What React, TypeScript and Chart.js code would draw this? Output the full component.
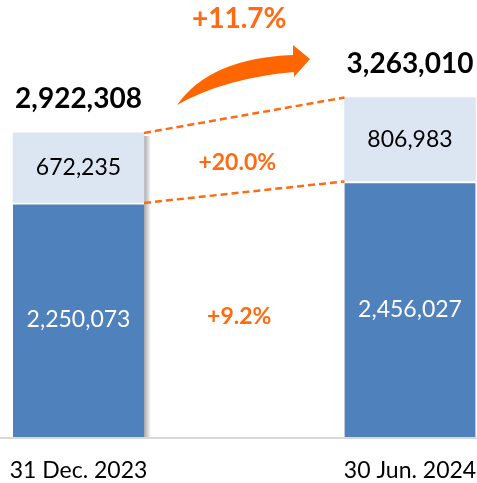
import React, { useEffect, useRef } from "react";
import { Chart, registerables } from "chart.js";

Chart.register(...registerables);

const categories = ["31 Dec. 2023", "30 Jun. 2024"];
const baseValues = [2250073, 2456027];
const topValues = [672235, 806983];
const totals = [2922308, 3263010];
const growthTotal = "+11.7%";
const growthTop = "+20.0%";
const growthBase = "+9.2%";

const DARK = "#4F81BD";
const LIGHT = "#DCE6F2";
const ORANGE = "#FF6A13";
const FONT = "Lato, 'Open Sans', sans-serif";

const fmt = (v: number) => v.toLocaleString("en-US");

const overlay = {
  id: "overlay",
  beforeDatasetsDraw(chart: any) {
    const ctx = chart.ctx;
    const y0 = chart.scales.y.getPixelForValue(0);
    ctx.save();
    // baseline
    ctx.strokeStyle = "#D9D9D9";
    ctx.lineWidth = 2;
    ctx.beginPath();
    ctx.moveTo(0, y0 + 1);
    ctx.lineTo(chart.width, y0 + 1);
    ctx.stroke();
    // shadow on first bar
    const b = chart.getDatasetMeta(1).data[0];
    const right = b.x + b.width / 2;
    const g = ctx.createLinearGradient(right, 0, right + 7, 0);
    g.addColorStop(0, "rgba(0,0,0,0.35)");
    g.addColorStop(1, "rgba(0,0,0,0)");
    ctx.fillStyle = g;
    ctx.fillRect(right, b.y + 3, 7, y0 - b.y - 3);
    ctx.restore();
  },
  afterDatasetsDraw(chart: any) {
    const ctx = chart.ctx;
    const base = chart.getDatasetMeta(0).data;
    const top = chart.getDatasetMeta(1).data;
    const y0 = chart.scales.y.getPixelForValue(0);
    ctx.save();
    ctx.textAlign = "center";
    ctx.textBaseline = "middle";
    // segment values
    ctx.font = `23px ${FONT}`;
    base.forEach((el: any, i: number) => {
      ctx.fillStyle = "#FFFFFF";
      ctx.fillText(fmt(baseValues[i]), el.x, (el.y + el.base) / 2);
    });
    top.forEach((el: any, i: number) => {
      ctx.fillStyle = "#000000";
      ctx.fillText(fmt(topValues[i]), el.x, (el.y + el.base) / 2);
    });
    // totals
    ctx.font = `bold 28px ${FONT}`;
    top.forEach((el: any, i: number) => {
      ctx.fillStyle = "#000000";
      ctx.fillText(fmt(totals[i]), el.x, el.y - 33.5);
    });
    // dashed connectors
    const r0 = top[0].x + top[0].width / 2;
    const l1 = top[1].x - top[1].width / 2;
    ctx.strokeStyle = ORANGE;
    ctx.lineWidth = 2.5;
    ctx.setLineDash([7, 4]);
    ctx.beginPath();
    ctx.moveTo(r0, top[0].y);
    ctx.lineTo(l1, top[1].y);
    ctx.moveTo(r0, base[0].y);
    ctx.lineTo(l1, base[1].y);
    ctx.stroke();
    ctx.setLineDash([]);
    // growth labels
    const midX = (r0 + l1) / 2;
    const topMid = (top[0].y + top[1].y) / 2;
    const baseMid = (base[0].y + base[1].y) / 2;
    ctx.fillStyle = ORANGE;
    ctx.font = `bold 23px ${FONT}`;
    ctx.fillText(growthTop, midX - 7, (topMid + baseMid) / 2 + 9);
    ctx.fillText(growthBase, midX - 5, (baseMid + y0) / 2 + 2);
    ctx.font = `bold 28px ${FONT}`;
    ctx.fillText(growthTotal, midX - 5, 19);
    // curved arrow
    ctx.fillStyle = "#FF6600";
    ctx.beginPath();
    ctx.moveTo(177, 105);
    ctx.quadraticCurveTo(210, 58, 293, 55);
    ctx.lineTo(293, 45);
    ctx.lineTo(310, 59);
    ctx.lineTo(294, 77);
    ctx.lineTo(294, 72);
    ctx.quadraticCurveTo(225, 78, 177, 105);
    ctx.closePath();
    ctx.fill();
    ctx.restore();
  },
};

export default function App() {
  const ref = useRef<HTMLCanvasElement>(null);
  useEffect(() => {
    if (!ref.current) return;
    const chart = new Chart(ref.current, {
      type: "bar",
      data: {
        labels: categories,
        datasets: [
          {
            label: "Base",
            data: baseValues,
            backgroundColor: DARK,
            borderColor: "#FFFFFF",
            borderWidth: { top: 2, left: 0, right: 0, bottom: 0 },
            borderSkipped: false,
            barThickness: 131,
            clip: false,
          },
          {
            label: "Top",
            data: topValues,
            backgroundColor: LIGHT,
            borderWidth: 0,
            barThickness: 131,
            clip: false,
          },
        ] as any,
      },
      options: {
        responsive: false,
        animation: false,
        events: [],
        layout: { padding: { left: 78.5, right: 67, top: 0, bottom: 0.5 } },
        plugins: {
          legend: { display: false },
          tooltip: { enabled: false },
        },
        scales: {
          x: {
            stacked: true,
            offset: false,
            grid: { display: false, drawTicks: false, tickLength: 0 },
            border: { display: false },
            ticks: {
              color: "#000000",
              padding: 22.5,
              maxRotation: 0,
              minRotation: 0,
              autoSkip: false,
              font: { family: FONT, size: 23, lineHeight: 1 },
            },
            afterFit: (s: any) => {
              s.paddingLeft = 0;
              s.paddingRight = 0;
              s.paddingTop = 0;
              s.paddingBottom = 0;
              s.height = 45.5;
            },
          },
          y: {
            stacked: true,
            display: false,
            min: 0,
            max: 4200000,
          },
        },
      } as any,
      plugins: [overlay],
    });
    return () => chart.destroy();
  }, []);
  return (
    <div style={{ position: "absolute", left: 0, top: 0, width: 477, height: 483, background: "#fff" }}>
      <canvas ref={ref} width={477} height={483} />
    </div>
  );
}
